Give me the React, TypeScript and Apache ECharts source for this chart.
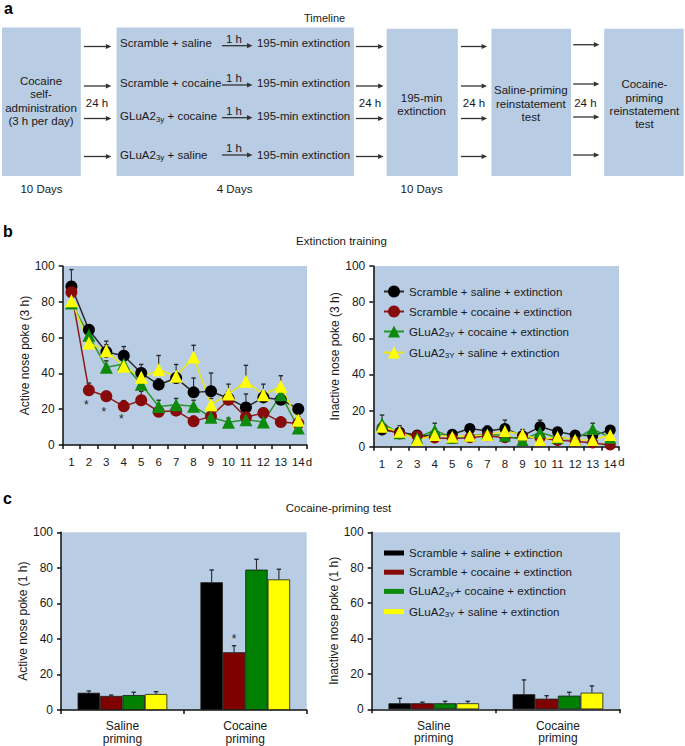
import React, { useEffect, useRef } from 'react';
import * as echarts from 'echarts';

// ---------------- data ----------------
const DAYS = ['1', '2', '3', '4', '5', '6', '7', '8', '9', '10', '11', '12', '13', '14'];
const GROUPS = [
  'Scramble + saline + extinction',
  'Scramble + cocaine + extinction',
  'GLuA2 3Y + cocaine + extinction',
  'GLuA2 3Y + saline + extinction',
];
const B_LEGEND = [
  '{n|Scramble + saline + extinction}',
  '{n|Scramble + cocaine + extinction}',
  '{n|GLuA2}{s|3Y}{n| + cocaine + extinction}',
  '{n|GLuA2}{s|3Y}{n| + saline + extinction}',
];
const C_LEGEND = [
  '{n|Scramble + saline + extinction}',
  '{n|Scramble + cocaine + extinction}',
  '{n|GLuA2}{s|3Y}{n|+ cocaine + extinction}',
  '{n|GLuA2}{s|3Y}{n| + saline + extinction}',
];

// Active nose poke (3 h), extinction days 1-14 (mean, and top of error bar)
const activeScrSal = [88.6, 64.4, 52, 49.9, 40.2, 33.7, 37.4, 29.4, 30, 26, 21, 26.6, 25.3, 20.1];
const activeScrSalTop = [98, 67, 56, 55, 45, 37, 40, 37.4, 40.2, 30, 28.5, 30, 28, 22];
const activeScrCoc = [85.3, 30.6, 27.2, 21.6, 25, 18.6, 19.2, 13.2, 16, 25.3, 15.5, 17.9, 12.8, 12];
const activeScrCocTop = [88, 34.6, 30, 24.8, 30, 21, 22, 16, 18, 28, 18, 20.5, 14.5, 14];
const activeGluCoc = [79.3, 61.3, 43.4, 45.3, 34, 21.5, 22.5, 21.6, 15.5, 12.7, 14.1, 12.8, 28.1, 9.5];
const activeGluCocTop = [81, 64, 47, 48, 37, 25, 26, 25, 18, 15, 16.5, 15, 31, 12];
const activeGluSal = [80.6, 57, 52.7, 44, 37.8, 42, 38.4, 49.2, 22.5, 28.5, 35.6, 28.1, 32.8, 13.8];
const activeGluSalTop = [83, 60, 58, 47, 41, 50, 45, 55.7, 26, 34, 44.5, 34, 38.7, 16];

// Inactive nose poke (3 h)
const inactScrSal = [9.2, 8, 6.5, 6, 6.9, 10.1, 8.7, 10.1, 6, 11, 8.3, 6.5, 6, 9.2];
const inactScrSalTop = [11, 10, 8, 8, 8.5, 12, 11.5, 14.7, 8, 14.7, 10, 8, 8, 11.5];
const inactScrCoc = [10.5, 7, 6, 4.8, 4.5, 5, 6, 5, 5, 5, 3.5, 3, 2, 1];
const inactScrCocTop = [12, 8.5, 7, 6, 6, 6, 7, 6.5, 6, 6.5, 4.5, 4, 3, 2];
const inactGluCoc = [12.9, 7.5, 5, 9.2, 5, 6, 7, 6, 3.7, 8, 5, 4, 9.8, 5];
const inactGluCocTop = [17.5, 9.5, 6.5, 13, 6.5, 7.5, 9, 8, 5, 10, 6.5, 5.5, 13, 7];
const inactGluSal = [11, 8.3, 3.7, 6.5, 5.5, 6, 6.5, 8.7, 6.8, 3.7, 5.5, 3.7, 3.7, 6.5];
const inactGluSalTop = [13, 11.6, 5, 9, 7, 8, 9, 12, 9.5, 5, 7, 5, 5, 9];

// Significance markers on extinction days (day index, y value)
const activeStars = [[1, 24.2], [2, 20.1], [3, 16.2]];

// Cocaine-priming test
const PRIMING = ['Saline\npriming', 'Cocaine\npriming'];
const primActive = [[9.7, 71.9], [7.9, 32.5], [8.4, 79], [9, 73.5]];
const primActiveTop = [[10.7, 78.8], [8.4, 36.2], [10, 84.8], [10.3, 79.2]];
const primInactive = [[3.4, 8.5], [3.4, 6], [3.4, 7.7], [3.4, 9.4]];
const primInactiveTop = [[6.2, 16.6], [4, 7.7], [4.5, 9.6], [4.5, 13.2]];
const primStars = [[1, 41.6, 1]]; // [category, y, bar index]

// Panel a (timeline) texts
const A_BOX1 = ['Cocaine', 'self-', 'administration', '(3 h per day)'];
const A_ROWS = [
  '{n|Scramble + saline}',
  '{n|Scramble + cocaine}',
  '{n|GLuA2}{s|3y}{n| + cocaine}',
  '{n|GLuA2}{s|3y}{n| + saline}',
];
const A_STEP = '195-min extinction';
const A_DELAY = '1 h';
const A_GAP = '24 h';
const A_BOX3 = ['195-min', 'extinction'];
const A_BOX4 = ['Saline-priming', 'reinstatement', 'test'];
const A_BOX5 = ['Cocaine-', 'priming', 'reinstatement', 'test'];
const A_DURATIONS = ['10 Days', '4 Days', '10 Days'];

// ---------------- styles ----------------
const FONT = '"Liberation Sans", Arial, Helvetica, sans-serif';
const BG = '#b8cce4';
const TXT = '#1a1a1a';
const MARK_COLORS = ['#000000', '#870b0b', '#0e8a0e', '#ffff00'];
const LINE_COLORS = ['#2a2a2a', '#8b1a1a', '#2b962b', '#e8e80c'];
const BAR_COLORS = ['#000000', '#800000', '#008000', '#ffff00'];
const SYMBOLS = ['circle', 'circle', 'triangle', 'triangle'];
const BAR_GAP = 0.27;
const ERR = '#2b2b2b';

const RICH = {
  n: { fontSize: 11.5, fontFamily: FONT, color: TXT, fill: TXT, lineHeight: 14 },
  s: { fontSize: 8, fontFamily: FONT, color: TXT, fill: TXT, lineHeight: 8, verticalAlign: 'bottom' },
};

function txt(x: number, y: number, text: string, extra: any = {}) {
  const align = extra.align || 'center';
  return {
    type: 'text',
    x,
    y,
    silent: true,
    style: {
      text,
      fontSize: 11.5,
      fontFamily: FONT,
      fill: TXT,
      align,
      textAlign: align,
      verticalAlign: 'middle',
      textVerticalAlign: 'middle',
      ...extra,
    },
  };
}

function arrow(x1: number, x2: number, y: number) {
  return [
    { type: 'line', silent: true, shape: { x1, y1: y, x2: x2 - 3, y2: y }, style: { stroke: '#333', lineWidth: 1.3 } },
    {
      type: 'polygon',
      silent: true,
      shape: { points: [[x2, y], [x2 - 5.5, y - 2.6], [x2 - 5.5, y + 2.6]] },
      style: { fill: '#333' },
    },
  ];
}

function panelA(): any[] {
  const els: any[] = [];
  const boxes = [
    [2, 27.5, 78.8, 148.5],
    [116.6, 27.5, 237.3, 148.5],
    [386.6, 28.7, 71.2, 147.3],
    [491.5, 28.7, 79.5, 147.3],
    [604.2, 28.7, 79.5, 147.3],
  ];
  boxes.forEach(([x, y, w, h]) =>
    els.push({ type: 'rect', silent: true, shape: { x, y, width: w, height: h }, style: { fill: BG } })
  );
  els.push(txt(4, 8.5, 'a', { fontSize: 16, fontWeight: 'bold', align: 'left', fill: '#000' }));
  els.push(txt(324.6, 18.3, 'Timeline', { fontSize: 11 }));

  const y1 = [80.7, 94.3, 107.7, 121];
  A_BOX1.forEach((t, i) => els.push(txt(41, y1[i], t)));

  const arrowYs = [46.5, 86, 118.5, 156.5];
  const arrowYs2 = [44.7, 84, 117, 155];
  arrowYs.forEach((y) => {
    els.push(...arrow(83.9, 111.4, y));
    els.push(...arrow(356, 383.6, y));
    els.push(...arrow(460.9, 487.1, y));
  });
  arrowYs2.forEach((y) => els.push(...arrow(573.2, 599.4, y)));
  [97, 370, 474, 585.4].forEach((x) => els.push(txt(x, 102.5, A_GAP)));

  const rowYs = [43.3, 82.7, 116, 154.7];
  const innerYs = [45.7, 85, 117.7, 155];
  A_ROWS.forEach((t, i) => {
    els.push(txt(120.1, rowYs[i], t, { align: 'left', rich: RICH }));
    els.push(...arrow(221.9, 252.5, innerYs[i]));
    els.push(txt(234, innerYs[i] - 7, A_DELAY));
    els.push(txt(256.9, rowYs[i], A_STEP, { align: 'left' }));
  });

  [98.3, 110.7].forEach((y, i) => els.push(txt(421.6, y, A_BOX3[i])));
  [90, 104, 117.3].forEach((y, i) => els.push(txt(530.8, y, A_BOX4[i])));
  [84, 97.7, 111, 124.3].forEach((y, i) => els.push(txt(644.4, y, A_BOX5[i])));
  [41.5, 234.6, 421.6].forEach((x, i) => els.push(txt(x, 189.3, A_DURATIONS[i])));
  return els;
}

function otherGraphics(): any[] {
  return [
    txt(3, 231.5, 'b', { fontSize: 16, fontWeight: 'bold', align: 'left', fill: '#000' }),
    txt(341.5, 241, 'Extinction training', { fontSize: 11.5 }),
    txt(309, 461.7, 'd', { fontSize: 11.5 }),
    txt(621.5, 461.5, 'd', { fontSize: 11.5 }),
    txt(3, 498.5, 'c', { fontSize: 16, fontWeight: 'bold', align: 'left', fill: '#000' }),
    txt(338.5, 508, 'Cocaine-priming test', { fontSize: 11.5 }),
  ];
}

const AXIS_LINE = { color: '#111', width: 1.5 };

function catAxis(gridIndex: number, data: string[], label: any) {
  return {
    type: 'category',
    gridIndex,
    data,
    boundaryGap: true,
    axisLine: { show: true, onZero: false, lineStyle: AXIS_LINE },
    axisTick: { show: true, inside: false, length: 4, alignWithLabel: false, interval: 0, lineStyle: AXIS_LINE },
    axisLabel: { interval: 0, color: TXT, fontFamily: FONT, ...label },
    splitLine: { show: false },
    splitArea: { show: false },
  };
}

function valAxis(gridIndex: number, name: string) {
  return {
    type: 'value',
    gridIndex,
    min: 0,
    max: 100,
    interval: 20,
    name,
    nameLocation: 'middle',
    nameGap: 31,
    nameTextStyle: { fontSize: 12, color: TXT, fontFamily: FONT },
    axisLine: { show: true, lineStyle: AXIS_LINE },
    axisTick: { show: true, inside: false, length: 4, lineStyle: AXIS_LINE },
    axisLabel: { fontSize: 12, color: TXT, margin: 8, fontFamily: FONT },
    splitLine: { show: false },
  };
}

function lineSeries(panel: number, values: number[][], sizes: number[]) {
  return values.map((vals, g) => ({
    name: GROUPS[g],
    type: 'line',
    xAxisIndex: panel,
    yAxisIndex: panel,
    data: vals,
    symbol: SYMBOLS[g],
    symbolSize: sizes[g],
    showSymbol: true,
    itemStyle: { color: MARK_COLORS[g], borderWidth: 0 },
    lineStyle: { color: LINE_COLORS[g], width: 1.5 },
    emphasis: { disabled: true },
    z: 3,
  }));
}

function lineErr(panel: number, vals: number[], tops: number[]) {
  return {
    type: 'custom',
    xAxisIndex: panel,
    yAxisIndex: panel,
    silent: true,
    z: 1,
    data: vals.map((v, i) => [i, v, tops[i]]),
    encode: { x: 0, y: [1, 2] },
    renderItem: (_p: any, api: any) => {
      const i = api.value(0);
      const a = api.coord([i, api.value(1)]);
      const b = api.coord([i, api.value(2)]);
      return {
        type: 'group',
        children: [
          { type: 'line', shape: { x1: a[0], y1: a[1], x2: a[0], y2: b[1] }, style: { stroke: ERR, lineWidth: 1.1 } },
          { type: 'line', shape: { x1: a[0] - 2.2, y1: b[1], x2: a[0] + 2.2, y2: b[1] }, style: { stroke: ERR, lineWidth: 1.4 } },
        ],
      };
    },
  };
}

function barSeries(panel: number, values: number[][]) {
  return values.map((vals, g) => ({
    name: GROUPS[g],
    type: 'bar',
    xAxisIndex: panel,
    yAxisIndex: panel,
    data: vals,
    barGap: '0%',
    barCategoryGap: BAR_GAP * 100 + '%',
    itemStyle: { color: BAR_COLORS[g], borderColor: '#1a1a1a', borderWidth: 0.8 },
    emphasis: { disabled: true },
    z: 2,
  }));
}

function barErr(panel: number, values: number[][], tops: number[][]) {
  const data: number[][] = [];
  values.forEach((vals, g) => vals.forEach((v, c) => data.push([c, v, tops[g][c], g])));
  return {
    type: 'custom',
    xAxisIndex: panel,
    yAxisIndex: panel,
    silent: true,
    z: 3,
    data,
    encode: { x: 0, y: [1, 2] },
    renderItem: (_p: any, api: any) => {
      const c = api.value(0);
      const g = api.value(3);
      const bw = (api.size([1, 0])[0] * (1 - BAR_GAP)) / 4;
      const a = api.coord([c, api.value(1)]);
      const b = api.coord([c, api.value(2)]);
      const x = a[0] + (g - 1.5) * bw;
      return {
        type: 'group',
        children: [
          { type: 'line', shape: { x1: x, y1: a[1], x2: x, y2: b[1] }, style: { stroke: ERR, lineWidth: 1.1 } },
          { type: 'line', shape: { x1: x - 2.2, y1: b[1], x2: x + 2.2, y2: b[1] }, style: { stroke: ERR, lineWidth: 1.4 } },
        ],
      };
    },
  };
}

function starSeries(panel: number, pts: number[][]) {
  return {
    type: 'custom',
    xAxisIndex: panel,
    yAxisIndex: panel,
    silent: true,
    z: 4,
    data: pts.map((p) => [p[0], p[1], p.length > 2 ? p[2] : -1]),
    encode: { x: 0, y: 1 },
    renderItem: (_p: any, api: any) => {
      const p = api.coord([api.value(0), api.value(1)]);
      const k = api.value(2);
      let x = p[0] - 2.5;
      if (k >= 0) {
        const bw = (api.size([1, 0])[0] * (1 - BAR_GAP)) / 4;
        x = p[0] + (k - 1.5) * bw;
      }
      return {
        type: 'text',
        x,
        y: p[1] + 3,
        style: {
          text: '*',
          fontSize: 12,
          fontFamily: FONT,
          fill: '#222',
          align: 'center',
          textAlign: 'center',
          verticalAlign: 'middle',
          textVerticalAlign: 'middle',
        },
      };
    },
  };
}

function buildOption(): any {
  const activeVals = [activeScrSal, activeScrCoc, activeGluCoc, activeGluSal];
  const activeTops = [activeScrSalTop, activeScrCocTop, activeGluCocTop, activeGluSalTop];
  const inactVals = [inactScrSal, inactScrCoc, inactGluCoc, inactGluSal];
  const inactTops = [inactScrSalTop, inactScrCocTop, inactGluCocTop, inactGluSalTop];

  const legendText = {
    fontSize: 11.5,
    fontFamily: FONT,
    color: TXT,
    rich: {
      n: { fontSize: 11.5, fontFamily: FONT, color: TXT, lineHeight: 14 },
      s: { fontSize: 8, fontFamily: FONT, color: TXT, lineHeight: 8, verticalAlign: 'bottom' },
    },
  };

  return {
    animation: false,
    backgroundColor: '#ffffff',
    textStyle: { fontFamily: FONT },
    grid: [
      { left: 62.7, top: 266, width: 244.3, height: 179, show: true, backgroundColor: BG, borderWidth: 0, containLabel: false, outerBoundsMode: 'none' },
      { left: 373.3, top: 266, width: 245.7, height: 180.7, show: true, backgroundColor: BG, borderWidth: 0, containLabel: false, outerBoundsMode: 'none' },
      { left: 61, top: 532.3, width: 245.7, height: 177.7, show: true, backgroundColor: BG, borderWidth: 0, containLabel: false, outerBoundsMode: 'none' },
      { left: 371.7, top: 532.3, width: 248.3, height: 177, show: true, backgroundColor: BG, borderWidth: 0, containLabel: false, outerBoundsMode: 'none' },
    ],
    xAxis: [
      catAxis(0, DAYS, { fontSize: 11.5, margin: 11 }),
      catAxis(1, DAYS, { fontSize: 11.5, margin: 11 }),
      catAxis(2, PRIMING, { fontSize: 12, margin: 10, lineHeight: 12.5 }),
      catAxis(3, PRIMING, { fontSize: 12, margin: 10, lineHeight: 12.5 }),
    ],
    yAxis: [
      valAxis(0, 'Active nose poke (3 h)'),
      valAxis(1, 'Inactive nose poke (3 h)'),
      valAxis(2, 'Active nose poke (1 h)'),
      valAxis(3, 'Inactive nose poke (1 h)'),
    ],
    legend: [
      {
        orient: 'vertical',
        left: 378,
        top: 280.5,
        itemWidth: 20,
        itemHeight: 15,
        itemGap: 8,
        selectedMode: false,
        data: GROUPS,
        formatter: (n: string) => B_LEGEND[GROUPS.indexOf(n)],
        textStyle: legendText,
      },
      {
        orient: 'vertical',
        left: 379,
        top: 542,
        itemWidth: 20,
        itemHeight: 5,
        itemGap: 7.2,
        selectedMode: false,
        itemStyle: { borderWidth: 0 },
        data: GROUPS.map((n) => ({ name: n, icon: 'rect' })),
        formatter: (n: string) => C_LEGEND[GROUPS.indexOf(n)],
        textStyle: legendText,
      },
    ],
    graphic: { elements: [...panelA(), ...otherGraphics()] },
    series: [
      ...lineSeries(0, activeVals, [12, 12, 13, 13]),
      ...lineSeries(1, inactVals, [11, 11, 12, 12]),
      ...activeVals.map((v, g) => lineErr(0, v, activeTops[g])),
      ...inactVals.map((v, g) => lineErr(1, v, inactTops[g])),
      starSeries(0, activeStars),
      ...barSeries(2, primActive),
      ...barSeries(3, primInactive),
      barErr(2, primActive, primActiveTop),
      barErr(3, primInactive, primInactiveTop),
      starSeries(2, primStars),
    ],
  };
}

export default function App() {
  const ref = useRef<HTMLDivElement>(null);
  useEffect(() => {
    if (!ref.current) return;
    const chart = echarts.init(ref.current, null, { renderer: 'svg' });
    chart.setOption(buildOption());
    return () => chart.dispose();
  }, []);
  return (
    <div
      ref={ref}
      style={{ position: 'absolute', left: 0, top: 0, width: 685, height: 746, background: '#fff' }}
    />
  );
}
